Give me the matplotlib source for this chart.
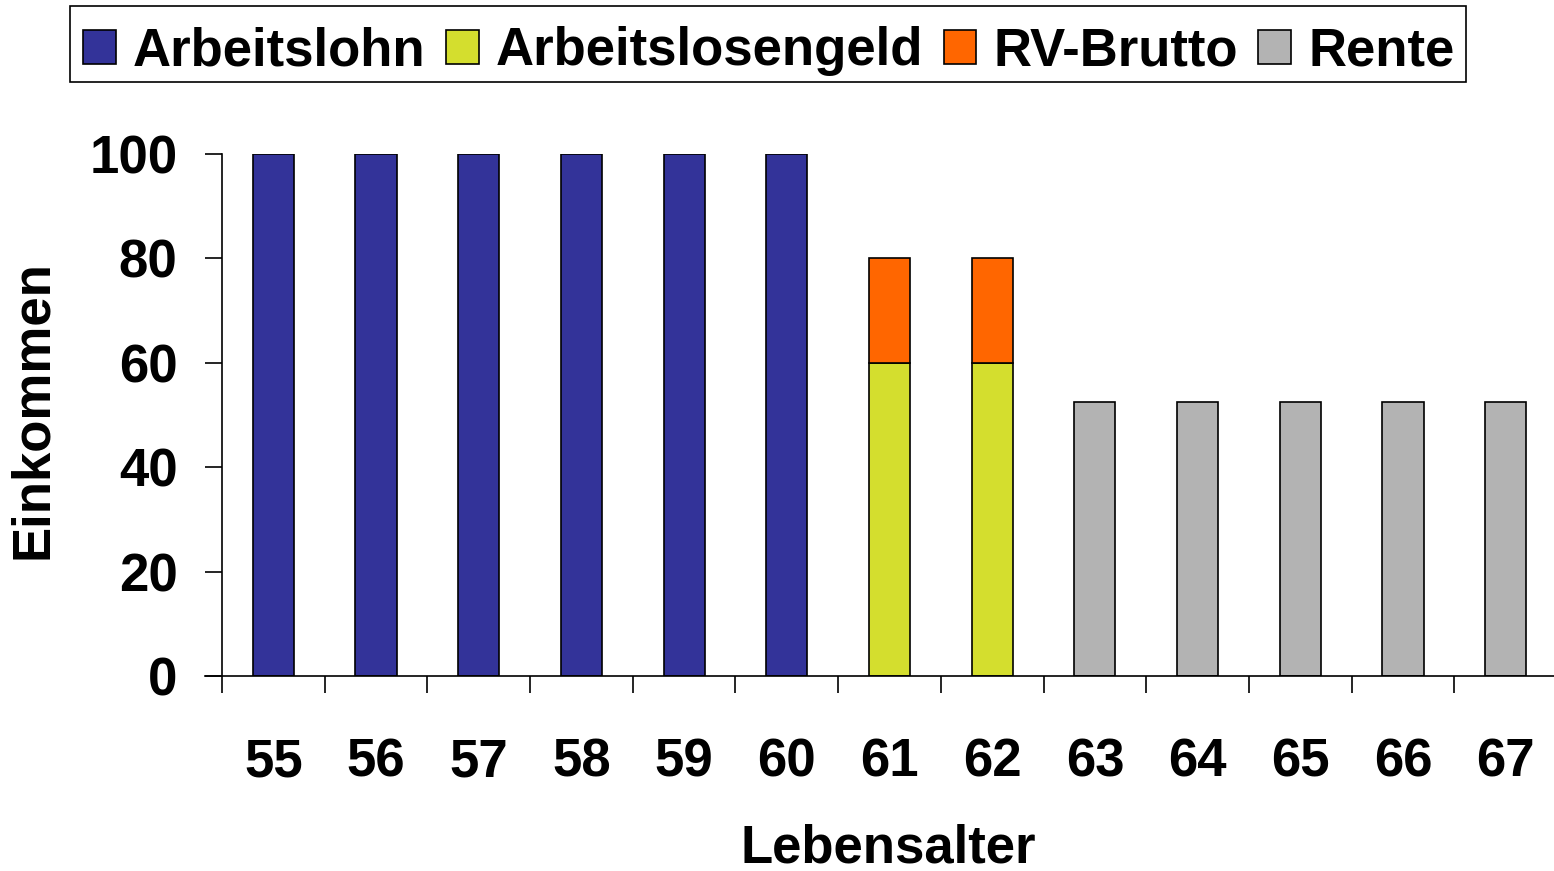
import matplotlib
matplotlib.use('Agg')
import matplotlib.pyplot as plt
from matplotlib.patches import Rectangle
import numpy as np

plt.rcParams['font.family'] = ['Liberation Sans', 'DejaVu Sans']
plt.rcParams['font.weight'] = 'bold'

alter = ['55', '56', '57', '58', '59', '60', '61', '62', '63', '64', '65', '66', '67']
arbeitslohn = [100, 100, 100, 100, 100, 100, 0, 0, 0, 0, 0, 0, 0]
arbeitslosengeld = [0, 0, 0, 0, 0, 0, 60, 60, 0, 0, 0, 0, 0]
rv_brutto = [0, 0, 0, 0, 0, 0, 20, 20, 0, 0, 0, 0, 0]
rente = [0, 0, 0, 0, 0, 0, 0, 0, 52.5, 52.5, 52.5, 52.5, 52.5]

fig = plt.figure(figsize=(15.54, 8.71), dpi=100)
ax = fig.add_axes([222 / 1554, 1 - 676 / 871, (1557 - 222) / 1554, (676 - 154) / 871])

x = np.arange(len(alter))
w = 0.4
kw = dict(width=w, edgecolor='black', linewidth=1.2)
bottom = np.zeros(len(alter))
serien = [('Arbeitslohn', arbeitslohn, '#333399'),
          ('Arbeitslosengeld', arbeitslosengeld, '#D4DE2E'),
          ('RV-Brutto', rv_brutto, '#FF6600'),
          ('Rente', rente, '#B3B3B3')]
for name, werte, farbe in serien:
    werte = np.array(werte, dtype=float)
    mask = werte > 0
    ax.bar(x[mask], werte[mask], bottom=bottom[mask], color=farbe, label=name, **kw)
    bottom += werte

fs = 38
ax.set_xlim(-0.5, len(alter) - 0.5)
ax.set_ylim(0, 100)
ax.set_yticks([0, 20, 40, 60, 80, 100])
ax.set_xticks(x)
ax.set_xticklabels(alter)
ax.set_xticks(np.arange(-0.5, len(alter), 1), minor=True)
ax.tick_params(axis='x', which='major', length=0, pad=44, labelsize=fs)
ax.tick_params(axis='x', which='minor', length=12, width=1.2, direction='out')
ax.tick_params(axis='y', length=12, width=1.2, pad=20, labelsize=fs)
for s in ['top', 'right']:
    ax.spines[s].set_visible(False)
ax.spines['left'].set_linewidth(1.2)
ax.spines['bottom'].set_linewidth(1.2)
ax.spines['bottom'].set_bounds(-0.5 - 17 / 102.6, len(alter) - 0.5)

ax.set_ylabel('Einkommen', fontsize=fs, fontweight='bold')
ax.set_xlabel('Lebensalter', fontsize=fs, fontweight='bold')
ax.yaxis.set_label_coords((58 - 222) / 1335, 0.51)
ax.xaxis.set_label_coords(0.499, (676 - 823) / 522)

# Legende ohne eigenen Rahmen, Rahmen separat (Text sitzt sonst zu hoch)
fig.legend(loc='upper left', bbox_to_anchor=(70 / 1554, 1 - 13 / 871), ncol=4,
           fontsize=fs, frameon=False,
           handlelength=0.62, handleheight=0.62, handletextpad=0.32,
           columnspacing=0.39, borderpad=0.25, borderaxespad=0)
fig.patches.append(Rectangle((70 / 1554, 1 - 82 / 871), 1396 / 1554, 76 / 871,
                             transform=fig.transFigure, fill=False,
                             edgecolor='black', linewidth=1.2))

fig.savefig('out.png', dpi=100)
